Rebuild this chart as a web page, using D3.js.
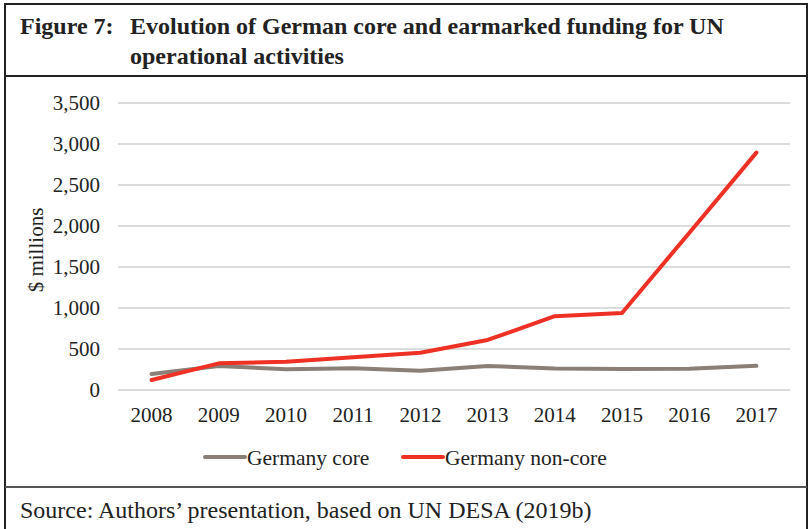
<!DOCTYPE html>
<html><head><meta charset="utf-8">
<script src="https://cdn.jsdelivr.net/npm/d3@7"></script>
<style>html,body{margin:0;padding:0;background:#fff;}svg{display:block;}</style>
</head><body>
<svg id="c" width="810" height="529"></svg>
<script>
const years = ["2008","2009","2010","2011","2012","2013","2014","2015","2016","2017"];
const coreValues = [195, 293, 252, 265, 236, 293, 262, 255, 258, 295];
const nonCoreValues = [122, 325, 345, 398, 455, 610, 900, 940, 1915, 2895];
const yTicks = [0, 500, 1000, 1500, 2000, 2500, 3000, 3500];
const seriesNames = ["Germany core", "Germany non-core"];
const seriesColors = ["#8b8078", "#ee3124"];
const titleLabel = "Figure 7:";
const titleLines = ["Evolution of German core and earmarked funding for UN", "operational activities"];
const yAxisLabel = "$ millions";
const sourceText = "Source: Authors\u2019 presentation, based on UN DESA (2019b)";

const svg = d3.select("#c");
const serif = "'Liberation Serif','Times New Roman',serif";

// frame
svg.append("rect").attr("x",5).attr("y",4).attr("width",802).attr("height",530)
  .attr("fill","none").attr("stroke","#222").attr("stroke-width",2);
svg.append("line").attr("x1",5).attr("x2",807).attr("y1",76).attr("y2",76).attr("stroke","#222").attr("stroke-width",2);
svg.append("line").attr("x1",5).attr("x2",807).attr("y1",487).attr("y2",487).attr("stroke","#555").attr("stroke-width",2);

// title
svg.append("text").attr("x",20).attr("y",34).attr("font-family",serif).attr("font-weight","bold")
  .attr("font-size",24).attr("fill","#222").text(titleLabel);
titleLines.forEach((t,i)=>{
  svg.append("text").attr("x",130).attr("y",34+30*i).attr("font-family",serif).attr("font-weight","bold")
    .attr("font-size",24).attr("fill","#222").text(t);
});

// scales
const x = d3.scaleBand().domain(years).range([118,790]);
const y = d3.scaleLinear().domain([0,3500]).range([390,103]);

// grid
svg.append("g").selectAll("line").data(yTicks).join("line")
  .attr("x1",118).attr("x2",790).attr("y1",d=>y(d)).attr("y2",d=>y(d))
  .attr("stroke","#d0d0d0").attr("stroke-width",1.5);

// y axis
const yAxis = d3.axisLeft(y).tickValues(yTicks).tickSize(0).tickPadding(0).tickFormat(d3.format(","));
const gy = svg.append("g").attr("transform","translate(100,0)").call(yAxis);
gy.select(".domain").remove();
gy.selectAll("text").attr("font-family",serif).attr("font-size",21).attr("fill","#222");

// x axis
const xAxis = d3.axisBottom(x).tickSize(0).tickPadding(0);
const gx = svg.append("g").attr("transform","translate(0,407)").call(xAxis);
gx.select(".domain").remove();
gx.selectAll("text").attr("font-family",serif).attr("font-size",21).attr("fill","#222");

// y label
svg.append("text").attr("transform","translate(43,250) rotate(-90)").attr("text-anchor","middle")
  .attr("font-family",serif).attr("font-size",21).attr("fill","#222").text(yAxisLabel);

// lines
const line = d3.line().x((d,i)=>x(years[i])+x.bandwidth()/2).y(d=>y(d));
[coreValues, nonCoreValues].forEach((vals,k)=>{
  svg.append("path").datum(vals).attr("d",line).attr("fill","none")
    .attr("stroke",seriesColors[k]).attr("stroke-width",4).attr("stroke-linecap","round").attr("stroke-linejoin","round");
});

// legend
const legX = [205, 403];
seriesNames.forEach((n,k)=>{
  svg.append("line").attr("x1",legX[k]).attr("x2",legX[k]+40).attr("y1",457).attr("y2",457)
    .attr("stroke",seriesColors[k]).attr("stroke-width",4).attr("stroke-linecap","round");
  svg.append("text").attr("x",legX[k]+42).attr("y",465).attr("font-family",serif).attr("font-size",21.5)
    .attr("fill","#222").text(n);
});

// source
svg.append("text").attr("x",20).attr("y",518).attr("font-family",serif).attr("font-size",24)
  .attr("fill","#222").text(sourceText);
</script>
</body></html>
